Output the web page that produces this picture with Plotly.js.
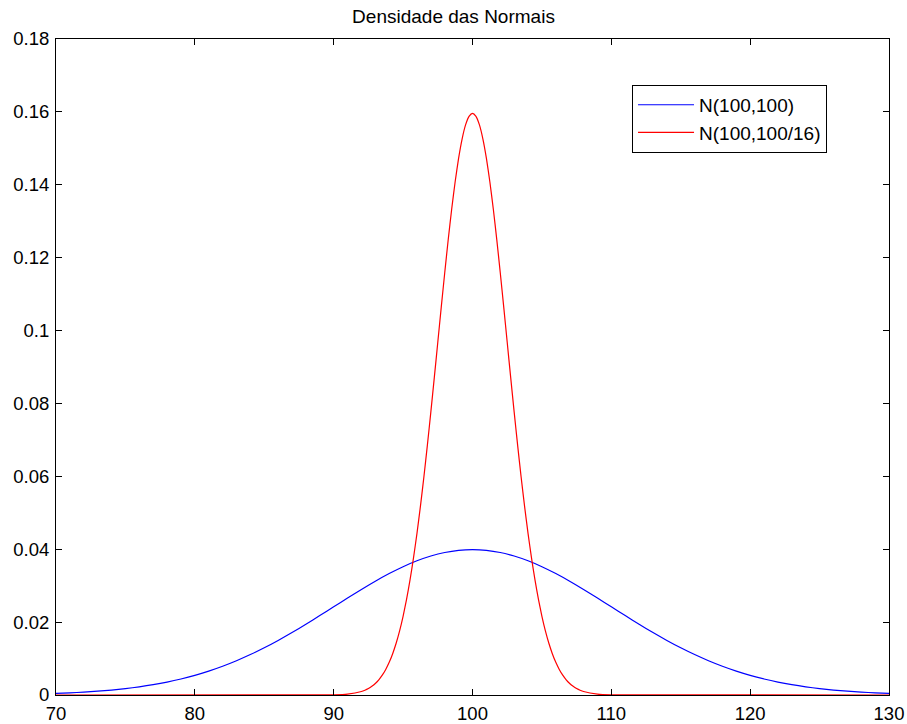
<!DOCTYPE html>
<html>
<head>
<meta charset="utf-8">
<script src="https://cdn.plot.ly/plotly-3.0.1.min.js"></script>
<style>html,body{margin:0;padding:0;background:#fff;}#chart{width:907px;height:724px;}</style>
</head>
<body>
<div id="chart"></div>
<script>
// N(100,100): sd = 10, values at x = 70..130 step 1
var xBlue = [70,71,72,73,74,75,76,77,78,79,80,81,82,83,84,85,86,87,88,89,90,91,92,93,94,95,96,97,98,99,100,
             101,102,103,104,105,106,107,108,109,110,111,112,113,114,115,116,117,118,119,120,121,122,123,124,125,126,127,128,129,130];
var yBlue = [0.000443,0.000595,0.000792,0.001042,0.001358,0.001753,0.002239,0.002833,0.003547,0.004398,0.005399,
             0.006562,0.007895,0.009405,0.011092,0.012952,0.014973,0.017137,0.019419,0.021785,0.024197,
             0.026609,0.028969,0.031225,0.033322,0.035207,0.036827,0.038139,0.039104,0.039695,0.039894,
             0.039695,0.039104,0.038139,0.036827,0.035207,0.033322,0.031225,0.028969,0.026609,0.024197,
             0.021785,0.019419,0.017137,0.014973,0.012952,0.011092,0.009405,0.007895,0.006562,0.005399,
             0.004398,0.003547,0.002833,0.002239,0.001753,0.001358,0.001042,0.000792,0.000595,0.000443];

// N(100,100/16): sd = 2.5
var xRed = [70,90,91,
  92,92.25,92.5,92.75,93,93.25,93.5,93.75,94,94.25,94.5,94.75,95,95.25,95.5,95.75,
  96,96.25,96.5,96.75,97,97.25,97.5,97.75,98,98.25,98.5,98.75,99,99.25,99.5,99.75,
  100,100.25,100.5,100.75,101,101.25,101.5,101.75,102,102.25,102.5,102.75,103,103.25,103.5,103.75,
  104,104.25,104.5,104.75,105,105.25,105.5,105.75,106,106.25,106.5,106.75,107,107.25,107.5,107.75,108,
  109,110,130];
var yRed = [0,0.0000535,0.000245,
  0.000954,0.001307,0.001773,0.002381,0.003166,0.004168,0.005433,0.007011,0.008958,0.011331,0.014190,0.017594,
  0.021596,0.026246,0.031580,0.037620,0.044368,0.051807,0.059891,0.068548,0.077675,0.087142,0.096788,
  0.106433,0.115876,0.124901,0.133289,0.140826,0.147308,0.152556,0.156418,0.158781,
  0.159577,
  0.158781,0.156418,0.152556,0.147308,0.140826,0.133289,0.124901,0.115876,0.106433,
  0.096788,0.087142,0.077675,0.068548,0.059891,0.051807,0.044368,0.037620,0.031580,0.026246,
  0.021596,0.017594,0.014190,0.011331,0.008958,0.007011,0.005433,0.004168,0.003166,0.002381,0.001773,0.001307,0.000954,
  0.000245,0.0000535,0];

var seriesNames = ["N(100,100)", "N(100,100/16)"];
var titleText = "Densidade das Normais";
var xTicks = [70,80,90,100,110,120,130];
var xTickText = ["70","80","90","100","110","120","130"];
var yTicks = [0,0.02,0.04,0.06,0.08,0.1,0.12,0.14,0.16,0.18];
var yTickText = ["0","0.02","0.04","0.06","0.08","0.1","0.12","0.14","0.16","0.18"];

var FONT = "Liberation Sans, Arial, Helvetica, sans-serif";

var traces = [
  {x: xBlue, y: yBlue, name: seriesNames[0], type: "scatter", mode: "lines",
   line: {color: "#0000ff", width: 1.2, shape: "spline", smoothing: 0.6}},
  {x: xRed, y: yRed, name: seriesNames[1], type: "scatter", mode: "lines",
   line: {color: "#ff0000", width: 1.2, shape: "spline", smoothing: 0.6}}
];

var axisCommon = {
  showgrid: false, zeroline: false, showline: true, linecolor: "#000", linewidth: 1,
  mirror: "ticks", ticks: "inside", ticklen: 6, tickwidth: 1, tickcolor: "#000",
  tickfont: {family: FONT, size: 18.5, color: "#000"}
};

var layout = {
  width: 907, height: 724,
  margin: {l: 56, r: 18, t: 39, b: 29, pad: 0},
  paper_bgcolor: "#fff", plot_bgcolor: "#fff",
  font: {family: FONT, size: 18.5, color: "#000"},
  title: {text: titleText, font: {family: FONT, size: 19, color: "#000"}, x: 0.5, xanchor: "center", y: 0.978, yanchor: "middle"},
  xaxis: Object.assign({}, axisCommon, {range: [70,130], tickmode: "array", tickvals: xTicks, ticktext: xTickText, ticklabelstandoff: 2}),
  yaxis: Object.assign({}, axisCommon, {range: [0,0.18], tickmode: "array", tickvals: yTicks, ticktext: yTickText, ticklabelstandoff: 2}),
  showlegend: true,
  legend: {x: 0.6915, y: 0.930, xanchor: "left", yanchor: "top", bgcolor: "#fff", bordercolor: "#000", borderwidth: 1,
           font: {family: FONT, size: 19, color: "#000"}, tracegroupgap: 0, itemwidth: 56}
};

Plotly.newPlot("chart", traces, layout, {displayModeBar: false, staticPlot: true});
</script>
</body>
</html>
